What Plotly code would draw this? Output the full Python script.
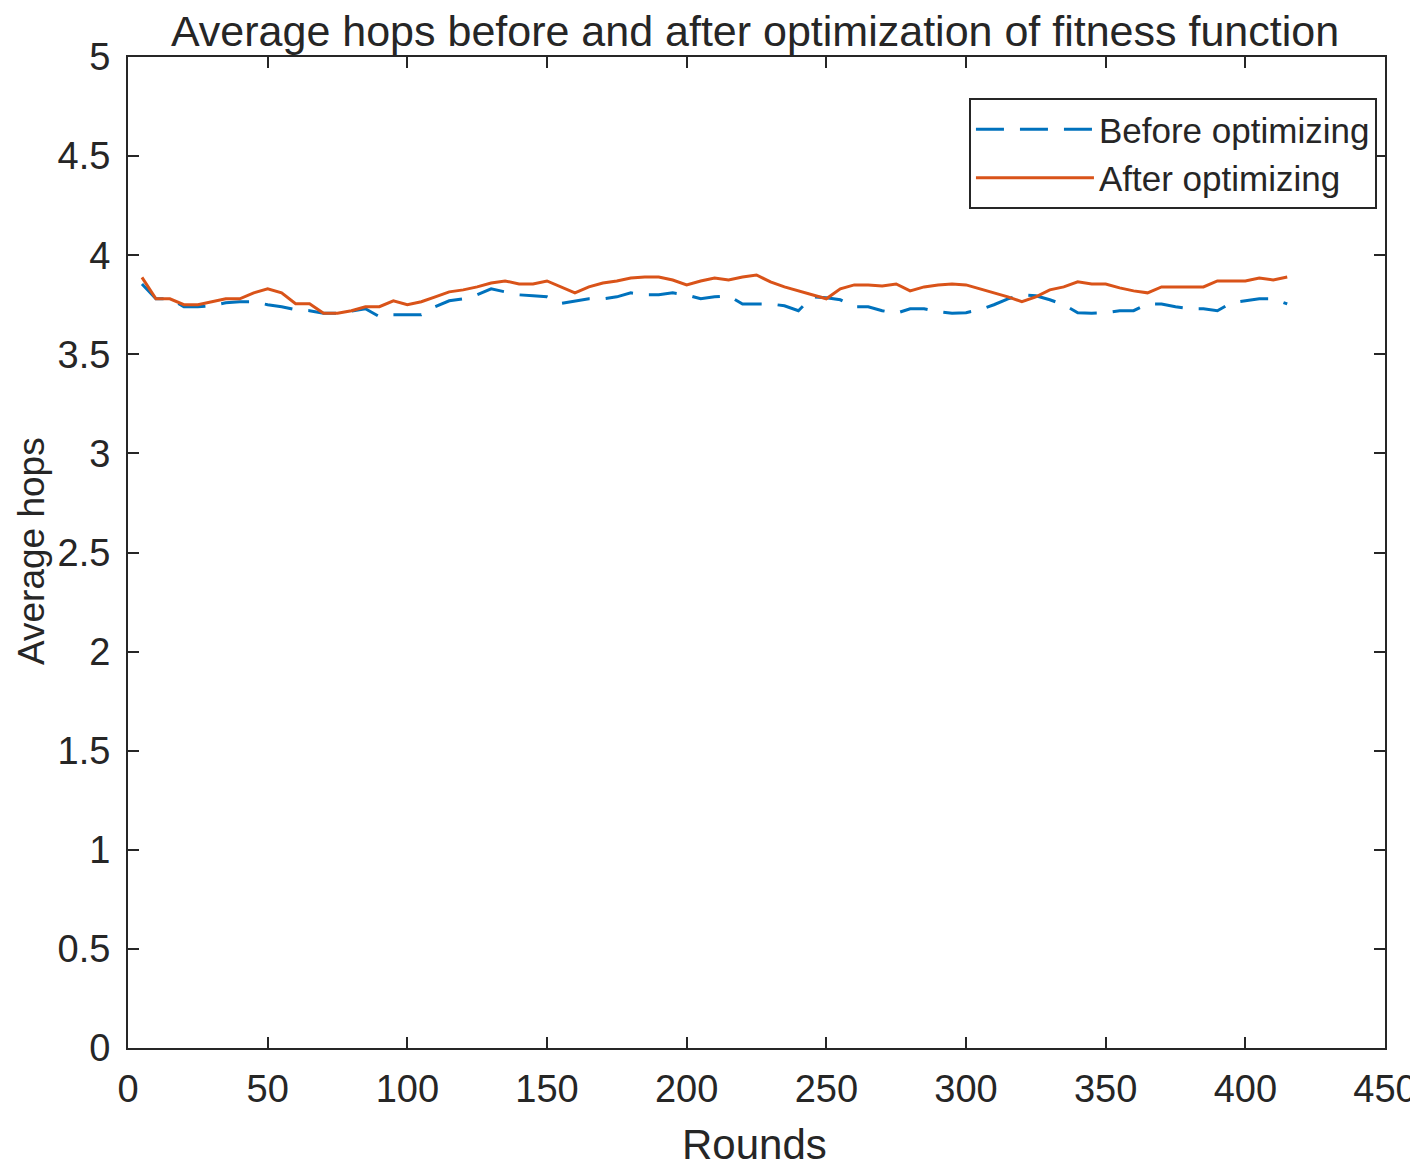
import plotly.graph_objects as go

rounds = list(range(5, 420, 5))

before = [3.855, 3.78, 3.78, 3.74, 3.74, 3.745, 3.76, 3.765, 3.765, 3.75,
          3.74, 3.725, 3.72, 3.707, 3.707, 3.72, 3.73, 3.69, 3.70, 3.70,
          3.70, 3.74, 3.77, 3.78, 3.80, 3.83, 3.815, 3.80, 3.795, 3.79,
          3.757, 3.77, 3.78, 3.78, 3.79, 3.81, 3.80, 3.80, 3.81, 3.80,
          3.78, 3.79, 3.795, 3.754, 3.754, 3.754, 3.745, 3.72, 3.79, 3.785,
          3.775, 3.74, 3.74, 3.72, 3.707, 3.73, 3.73, 3.715, 3.707, 3.71,
          3.725, 3.75, 3.78, 3.80, 3.795, 3.775, 3.75, 3.71, 3.707, 3.71,
          3.72, 3.72, 3.754, 3.754, 3.74, 3.73, 3.73, 3.72, 3.76, 3.77,
          3.78, 3.78, 3.754]

after = [3.888, 3.78, 3.78, 3.75, 3.75, 3.765, 3.78, 3.78, 3.81, 3.83,
         3.81, 3.755, 3.755, 3.707, 3.707, 3.72, 3.74, 3.74, 3.77, 3.75,
         3.765, 3.79, 3.815, 3.825, 3.84, 3.86, 3.87, 3.855, 3.855, 3.87,
         3.84, 3.81, 3.84, 3.86, 3.87, 3.885, 3.89, 3.89, 3.875, 3.85,
         3.87, 3.885, 3.875, 3.89, 3.90, 3.865, 3.84, 3.82, 3.80, 3.78,
         3.83, 3.85, 3.85, 3.845, 3.855, 3.82, 3.84, 3.85, 3.855, 3.85,
         3.83, 3.81, 3.79, 3.765, 3.79, 3.825, 3.84, 3.866, 3.855, 3.855,
         3.835, 3.82, 3.81, 3.84, 3.84, 3.84, 3.84, 3.87, 3.87, 3.87,
         3.885, 3.875, 3.89]

x_ticks = list(range(0, 451, 50))
y_ticks = [i * 0.5 for i in range(11)]
y_tick_labels = ["0", "0.5", "1", "1.5", "2", "2.5", "3", "3.5", "4", "4.5", "5"]

title_text = "Average hops before and after optimization of fitness function"
x_title = "Rounds"
y_title = "Average hops"

TXT = "#262626"
FONT = "Liberation Sans, Arial, sans-serif"

fig = go.Figure()
fig.add_trace(go.Scatter(x=rounds, y=before, mode="lines", name="Before optimizing",
                         line=dict(color="#0072BD", width=3, dash="28px,16px")))
fig.add_trace(go.Scatter(x=rounds, y=after, mode="lines", name="After optimizing",
                         line=dict(color="#D95319", width=3)))

axis_common = dict(showline=True, linecolor=TXT, linewidth=2, mirror="allticks",
                   ticks="inside", ticklen=11, tickwidth=2, tickcolor=TXT,
                   showgrid=False, zeroline=False, automargin=False,
                   tickfont=dict(family=FONT, size=38, color=TXT))

fig.update_layout(
    width=1410, height=1163,
    paper_bgcolor="white", plot_bgcolor="white",
    margin=dict(l=120, r=33, t=49, b=123),
    title=dict(text=title_text, x=0.5298, xanchor="center", y=0.993, yanchor="top",
               font=dict(family=FONT, size=43, color=TXT)),
    xaxis=dict(range=[0, 450], tickvals=x_ticks, ticklabelstandoff=6, **axis_common),
    yaxis=dict(range=[0, 5], tickvals=y_ticks, ticktext=y_tick_labels,
               ticklabelstandoff=8, **axis_common),
    legend=dict(x=0.9936, xanchor="right", y=0.9586, yanchor="top",
                bgcolor="white", bordercolor=TXT, borderwidth=2,
                font=dict(family=FONT, size=35, color=TXT),
                itemwidth=118, tracegroupgap=0),
    showlegend=True,
    annotations=[
        dict(text=x_title, xref="paper", yref="paper", x=0.4988, y=-0.097,
             xanchor="center", yanchor="middle", showarrow=False,
             font=dict(family=FONT, size=42, color=TXT)),
        dict(text=y_title, xref="paper", yref="paper", x=-0.0772, y=0.5015,
             xanchor="center", yanchor="middle", showarrow=False, textangle=-90,
             font=dict(family=FONT, size=37, color=TXT)),
    ],
)

fig.write_html("out.html")
